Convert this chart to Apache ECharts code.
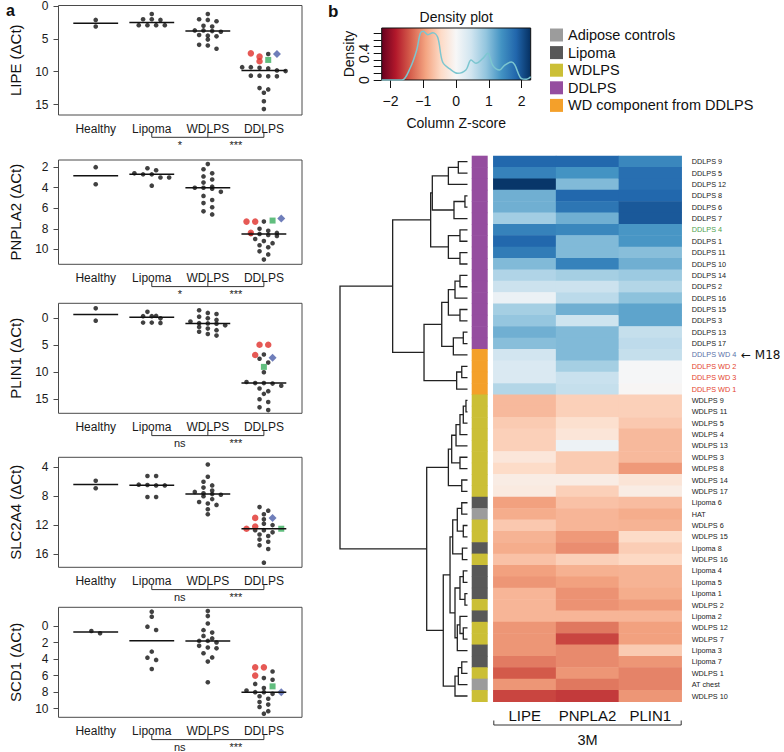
<!DOCTYPE html>
<html><head><meta charset="utf-8">
<script src="https://cdn.jsdelivr.net/npm/echarts@6/dist/echarts.min.js"></script>
<style>html,body{margin:0;padding:0;background:#fff}#c{width:784px;height:752px}</style>
</head><body><div id="c"></div>
<script>
// ================= DATA =================
const groupNames = ['Healthy', 'Lipoma', 'WDLPS', 'DDLPS'];

// Panel a: delta Ct values (black points), WD components (red), M18 (blue), DDLPS 4 (green)
const LIPE_healthy = [2.1, 3.1];
const LIPE_lipoma = [1.2, 2.0, 2.0, 2.1, 2.9, 2.9, 2.9, 2.9];
const LIPE_wdlps = [1.2, 2.0, 2.1, 2.3, 3.0, 3.1, 3.7, 3.7, 3.8, 3.9, 4.4, 4.5, 4.6, 5.1, 5.9, 6.0, 6.5];
const LIPE_ddlps = [7.3, 9.3, 9.3, 9.4, 9.5, 9.8, 9.9, 10.6, 10.6, 10.7, 10.7, 12.5, 12.7, 13.2, 14.5, 15.7];
const LIPE_wdComp = [7.2, 7.7, 8.4];
const LIPE_M18 = [7.3];
const LIPE_DDLPS4 = [8.2];
const LIPE_ticks = [0, 5, 10, 15];

const PNPLA2_healthy = [2.0, 3.66];
const PNPLA2_lipoma = [2.1, 2.3, 2.6, 2.7, 2.7, 3.0, 3.0, 3.8];
const PNPLA2_wdlps = [1.7, 2.2, 2.6, 2.9, 3.2, 3.5, 3.9, 4.0, 4.0, 4.1, 4.4, 4.8, 5.2, 5.5, 5.9, 6.3, 6.6];
const PNPLA2_ddlps = [7.3, 8.0, 8.2, 8.4, 8.5, 8.5, 8.6, 8.7, 9.0, 9.2, 9.4, 9.6, 9.8, 10.2, 10.5, 11.0];
const PNPLA2_wdComp = [7.3, 7.3, 8.4];
const PNPLA2_M18 = [7.0];
const PNPLA2_DDLPS4 = [7.2];
const PNPLA2_ticks = [2, 4, 6, 8, 10];

const PLIN1_healthy = [-1.85, 0.44];
const PLIN1_lipoma = [-1.2, -0.45, -0.4, -0.4, 0.0, 0.8, 0.85, 0.8];
const PLIN1_wdlps = [-1.5, -1.0, -0.8, -0.3, 0.0, 0.3, 0.6, 0.9, 0.95, 1.0, 1.3, 1.6, 1.9, 2.2, 2.5, 2.9, 3.2];
const PLIN1_ddlps = [6.7, 7.5, 8.2, 10.0, 11.8, 12.0, 12.0, 12.1, 12.5, 13.0, 13.5, 14.0, 15.0, 15.5, 16.5, 17.0];
const PLIN1_wdComp = [4.9, 4.9, 6.8];
const PLIN1_M18 = [7.3];
const PLIN1_DDLPS4 = [9.0];
const PLIN1_ticks = [0, 5, 10, 15];

const SLC2A4_healthy = [5.86, 6.9];
const SLC2A4_lipoma = [5.2, 5.2, 6.4, 6.45, 6.5, 6.5, 8.1, 8.1];
const SLC2A4_wdlps = [3.6, 5.3, 6.0, 6.5, 6.8, 7.2, 7.4, 7.6, 7.7, 7.8, 8.0, 8.4, 8.8, 9.0, 9.2, 9.8, 10.5];
const SLC2A4_ddlps = [9.5, 10.0, 10.5, 11.2, 11.8, 12.0, 12.7, 12.7, 13.0, 13.3, 13.5, 14.0, 14.3, 14.8, 15.3, 17.2];
const SLC2A4_wdComp = [11.0, 12.2, 12.5];
const SLC2A4_M18 = [11.0];
const SLC2A4_DDLPS4 = [12.5];
const SLC2A4_ticks = [4, 8, 12, 16];

const SCD1_healthy = [0.88, 0.6];
const SCD1_lipoma = [-1.73, -1.13, 0.08, 0.48, 3.1, 3.83, 4.1, 5.2];
const SCD1_wdlps = [-1.8, -1.2, -0.3, 0.5, 0.8, 1.2, 1.5, 1.8, 1.8, 2.0, 2.4, 2.6, 2.7, 3.3, 3.8, 4.3, 6.8];
const SCD1_ddlps = [5.5, 6.3, 6.5, 7.0, 7.5, 7.8, 8.0, 8.0, 8.2, 8.5, 8.8, 9.2, 9.5, 9.8, 10.3, 10.6];
const SCD1_wdComp = [5.0, 5.0, 6.0];
const SCD1_M18 = [8.0];
const SCD1_DDLPS4 = [7.3];
const SCD1_ticks = [0, 2, 4, 6, 8, 10];

const sigLipomaWDLPS = ['*', '*', 'ns', 'ns', 'ns'];
const sigWDLPSDDLPS = ['***', '***', '***', '***', '***'];

// Panel b: heatmap
const heatGenes = ['LIPE', 'PNPLA2', 'PLIN1'];
const rowNames = ['DDLPS 9','DDLPS 5','DDLPS 12','DDLPS 8','DDLPS 6','DDLPS 7','DDLPS 4','DDLPS 1','DDLPS 11','DDLPS 10','DDLPS 14','DDLPS 2','DDLPS 16','DDLPS 15','DDLPS 3','DDLPS 13','DDLPS 17','DDLPS WD 4','DDLPS WD 2','DDLPS WD 3','DDLPS WD 1','WDLPS 9','WDLPS 11','WDLPS 5','WDLPS 4','WDLPS 13','WDLPS 3','WDLPS 8','WDLPS 14','WDLPS 17','Lipoma 6','HAT','WDLPS 6','WDLPS 15','Lipoma 8','WDLPS 16','Lipoma 4','Lipoma 5','Lipoma 1','WDLPS 2','Lipoma 2','WDLPS 12','WDLPS 7','Lipoma 3','Lipoma 7','WDLPS 1','AT chest','WDLPS 10'];
const zLIPE = [1.82,1.55,2.25,1.12,1.12,0.8,1.55,1.82,1.62,1.02,0.7,0.5,0.15,0.78,0.9,1.12,0.98,0.45,0.35,0.35,0.68,-0.75,-0.75,-0.6,-0.55,-0.55,-0.28,-0.45,-0.18,-0.22,-0.95,-0.85,-0.62,-0.8,-0.85,-0.68,-0.95,-1.02,-0.78,-0.78,-0.78,-1.02,-1.02,-1.02,-1.2,-1.42,-1.02,-1.55];
const zPNPLA2 = [1.82,1.38,1.02,1.82,1.68,1.12,1.5,1.02,1.02,1.55,0.78,0.5,0.62,1.12,0.48,1.02,1.02,1.02,0.78,0.52,0.55,-0.55,-0.55,-0.38,-0.3,0.12,-0.6,-0.6,-0.18,-0.55,-0.68,-0.78,-0.78,-1.0,-1.08,-0.55,-0.82,-0.95,-1.05,-1.05,-0.78,-1.22,-1.55,-1.1,-1.1,-1.02,-1.22,-1.62];
const zPLIN1 = [1.5,1.75,1.75,1.82,1.95,1.95,1.35,1.35,0.98,1.12,0.85,0.68,0.95,1.22,1.22,0.55,0.6,0.55,0.02,0.02,-0.03,-0.55,-0.55,-0.62,-0.75,-0.75,-0.75,-1.0,-0.32,-0.18,-0.72,-0.85,-0.8,-0.45,-0.58,-0.48,-0.8,-0.8,-0.85,-0.98,-0.78,-0.95,-0.95,-0.6,-1.02,-1.15,-1.15,-1.02];
const labelColors = {'DDLPS 4':'#4f9f4f','DDLPS WD 4':'#5a72a8','DDLPS WD 2':'#e4432e','DDLPS WD 3':'#e4432e','DDLPS WD 1':'#e4432e'};

// Row dendrogram (hclust style merges: negative = leaf row (1-based), positive = earlier merge)
const dendroMerges = [
 [-1,-2,0.72],[1,-3,1.5],[-4,-5,0.2],[3,-6,1.06],[2,4,2.76],[-7,-8,0.59],[-9,-10,0.59],[6,7,1.5],[5,8,2.89],
 [-11,-12,0.59],[10,-13,0.98],[-14,-15,0.59],[11,12,1.5],[-16,-17,0.33],[14,-18,1.11],[13,15,2.02],
 [-19,-20,0.45],[17,-21,0.85],[16,18,3.41],[9,19,5.87],
 [-22,-23,0.12],[21,-24,0.33],[22,-25,0.59],[23,-26,0.9],[-27,-28,0.59],[24,25,1.24],[-29,-30,0.45],[26,27,1.5],
 [-31,-32,0.45],[-33,-34,0.33],[29,30,0.8],[-35,-36,0.4],[31,32,1.16],[-37,-38,0.33],[-39,-40,0.2],[34,35,0.59],
 [-42,-43,0.33],[-41,37,0.59],[38,-44,0.8],[36,39,0.98],[33,40,1.37],
 [-45,-46,0.45],[42,-47,0.72],[43,-48,0.98],[41,44,1.9],[28,45,3.2],[20,46,10]
];

// Density plot of column Z-scores
const densX = [-2.27,-1.9,-1.65,-1.4,-1.2,-1.09,-1.0,-0.86,-0.71,-0.56,-0.41,-0.2,0.05,0.3,0.46,0.61,0.81,0.97,1.12,1.33,1.48,1.69,1.79,2.0,2.15,2.28];
const densY = [0,0,0.0,0.18,0.45,0.70,0.73,0.68,0.71,0.64,0.27,0.17,0.10,0.15,0.30,0.25,0.32,0.40,0.22,0.15,0.22,0.27,0.23,0.02,0.01,0.05];
const densTicks = [-2, -1, 0, 1, 2];

const legendNames = ['Adipose controls', 'Lipoma', 'WDLPS', 'DDLPS', 'WD component from DDLPS'];
const legendColors = ['#9c9c9c', '#585858', '#cbbf36', '#954d9f', '#f4a02a'];

// ================= BUILD =================
const FONT = 'Liberation Sans, Arial, Helvetica, sans-serif';
const RDBU = ['#67001f','#b2182b','#d6604d','#f4a582','#fddbc7','#f7f7f7','#d1e5f0','#92c5de','#4393c3','#2166ac','#053061'];
const ZMIN = -2.3, ZMAX = 2.3;

const panels = [
 {name:'LIPE (\u0394Ct)', h:LIPE_healthy, l:LIPE_lipoma, w:LIPE_wdlps, d:LIPE_ddlps, r:LIPE_wdComp, b:LIPE_M18, g:LIPE_DDLPS4, ticks:LIPE_ticks},
 {name:'PNPLA2 (\u0394Ct)', h:PNPLA2_healthy, l:PNPLA2_lipoma, w:PNPLA2_wdlps, d:PNPLA2_ddlps, r:PNPLA2_wdComp, b:PNPLA2_M18, g:PNPLA2_DDLPS4, ticks:PNPLA2_ticks},
 {name:'PLIN1 (\u0394Ct)', h:PLIN1_healthy, l:PLIN1_lipoma, w:PLIN1_wdlps, d:PLIN1_ddlps, r:PLIN1_wdComp, b:PLIN1_M18, g:PLIN1_DDLPS4, ticks:PLIN1_ticks},
 {name:'SLC2A4 (\u0394Ct)', h:SLC2A4_healthy, l:SLC2A4_lipoma, w:SLC2A4_wdlps, d:SLC2A4_ddlps, r:SLC2A4_wdComp, b:SLC2A4_M18, g:SLC2A4_DDLPS4, ticks:SLC2A4_ticks},
 {name:'SCD1 (\u0394Ct)', h:SCD1_healthy, l:SCD1_lipoma, w:SCD1_wdlps, d:SCD1_ddlps, r:SCD1_wdComp, b:SCD1_M18, g:SCD1_DDLPS4, ticks:SCD1_ticks}
];
// layout of the five boxes (pixels / axis extents)
const boxes = [
 {top:5.5, height:109.5, min:-0.1, max:16.6},
 {top:160, height:104.3, min:1.3, max:11.46},
 {top:303.3, height:110, min:-2.78, max:17.6},
 {top:457.3, height:110, min:2.61, max:17.84},
 {top:607.3, height:110, min:-2.26, max:11.04}
];
const BOX_LEFT = 58.5, BOX_W = 243.5, XMIN = 0.336, XMAX = 4.68;

function median(a){ const s=a.slice().sort((x,y)=>x-y); const n=s.length; return n%2? s[(n-1)/2] : (s[n/2-1]+s[n/2])/2; }
function swarm(items, center, binSize, step){
  const order = {r:0,k:1,g:2,b:3};
  const sorted = items.slice().sort((a,b)=>a.v-b.v);
  const bins = [];
  for (const it of sorted){
    const last = bins[bins.length-1];
    if (last && it.v - last[0].v < binSize) last.push(it); else bins.push([it]);
  }
  const out = [];
  bins.forEach(b => { b.sort((p,q)=>order[p.kind]-order[q.kind]); b.forEach((it,k)=> out.push({x:center+(k-(b.length-1)/2)*step, y:it.v, kind:it.kind})); });
  return out;
}

const grids = [], xAxes = [], yAxes = [], series = [];

panels.forEach((p, i) => {
  const box = boxes[i];
  const ppu = box.height / (box.max - box.min);
  grids.push({left:BOX_LEFT, top:box.top, width:BOX_W, height:box.height, show:true, borderColor:'#4a4a4a', borderWidth:1, backgroundColor:'transparent', containLabel:false, outerBoundsMode:'none'});
  xAxes.push({gridIndex:i, type:'value', min:XMIN, max:XMAX, splitLine:{show:false}, axisLine:{show:false, onZero:false}, axisTick:{show:false},
    axisLabel:{customValues:[1,2,3,4], formatter:(v)=>groupNames[Math.round(v)-1], fontSize:12, color:'#1a1a1a', margin:8, fontFamily:FONT}});
  yAxes.push({gridIndex:i, type:'value', inverse:true, min:box.min, max:box.max, splitLine:{show:false}, axisLine:{show:false, onZero:false},
    axisTick:{show:true, customValues:p.ticks, length:5, lineStyle:{color:'#4a4a4a'}},
    axisLabel:{customValues:p.ticks, fontSize:12, color:'#1a1a1a', margin:10, fontFamily:FONT},
    name:p.name, nameLocation:'middle', nameRotate:90, nameGap:36, nameTextStyle:{fontSize:15, color:'#111', fontFamily:FONT}});
  const bin = 4.2/ppu, step = 0.155;
  const pts = [];
  const groupsVals = [p.h, p.l, p.w];
  groupsVals.forEach((vals, gi) => swarm(vals.map(v=>({v, kind:'k'})), gi+1, bin, step).forEach(q=>pts.push(q)));
  const dItems = p.d.map(v=>({v,kind:'k'})).concat(p.r.map(v=>({v,kind:'r'})), p.b.map(v=>({v,kind:'b'})), p.g.map(v=>({v,kind:'g'})));
  swarm(dItems, 4, bin, step).forEach(q=>pts.push(q));
  const sty = {k:{sym:'circle', size:4.6, color:'#111'}, r:{sym:'circle', size:6.5, color:'#e0302b'}, b:{sym:'diamond', size:8, color:'#4b5ea9'}, g:{sym:'rect', size:6, color:'#3aae5e'}};
  ['k','r','b','g'].forEach(kind => {
    series.push({type:'scatter', xAxisIndex:i, yAxisIndex:i, symbol:sty[kind].sym, symbolSize:sty[kind].size,
      itemStyle:{color:sty[kind].color}, data: pts.filter(q=>q.kind===kind).map(q=>[q.x, q.y]), z:3});
  });
  const allD = p.d.concat(p.r, p.b, p.g);
  const meds = [median(p.h), median(p.l), median(p.w), median(allD)].map((m,gi)=>[gi+1, m]);
  series.push({type:'custom', xAxisIndex:i, yAxisIndex:i, data:meds, z:4,
    renderItem:(params, api) => { const x=api.value(0), y=api.value(1); const a=api.coord([x-0.4,y]), b=api.coord([x+0.4,y]);
      return {type:'line', shape:{x1:a[0],y1:a[1],x2:b[0],y2:b[1]}, style:{stroke:'#111', lineWidth:1.5}}; }});
  const sigA = sigLipomaWDLPS[i], sigB = sigWDLPSDDLPS[i];
  series.push({type:'custom', xAxisIndex:i, yAxisIndex:i, data:[[2.5, box.max]], clip:false, silent:true,
    renderItem:(params, api) => {
      const c2=api.coord([2,box.max]), c3=api.coord([3,box.max]), c4=api.coord([4,box.max]);
      const yb=c2[1]+22.3, t=4.5;
      return {type:'group', children:[
        {type:'polyline', shape:{points:[[c2[0],yb-t],[c2[0],yb],[c4[0],yb],[c4[0],yb-t]]}, style:{stroke:'#333', lineWidth:1, fill:null}},
        {type:'line', shape:{x1:c3[0],y1:yb-t,x2:c3[0],y2:yb}, style:{stroke:'#333', lineWidth:1}},
        {type:'text', x:(c2[0]+c3[0])/2, y:yb+2, style:{text:sigA, fill:'#222', fontSize:11, align:'center', verticalAlign:'top', fontFamily:FONT}},
        {type:'text', x:(c3[0]+c4[0])/2, y:yb+2, style:{text:sigB, fill:'#222', fontSize:11, align:'center', verticalAlign:'top', fontFamily:FONT}}
      ]};
    }});
});

// ---- heatmap (grid 5) ----
const HM = {left:493.3, top:156, width:188.4, height:545.7};
grids.push({left:HM.left, top:HM.top, width:HM.width, height:HM.height, containLabel:false, outerBoundsMode:'none'});
xAxes.push({gridIndex:5, type:'category', data:heatGenes, position:'bottom', axisLine:{show:false}, axisTick:{show:false},
  axisLabel:{interval:0, hideOverlap:false, fontSize:15, color:'#111', margin:6, fontFamily:FONT}});
yAxes.push({gridIndex:5, type:'category', data:rowNames, inverse:true, position:'right', axisLine:{show:false}, axisTick:{show:false},
  axisLabel:{interval:0, hideOverlap:false, fontSize:7.3, margin:10, fontFamily:FONT, color:(v)=>labelColors[v]||'#222'}});
const heatData = [];
const zCols = [zLIPE, zPNPLA2, zPLIN1];
zCols.forEach((col, ci) => col.forEach((z, ri) => heatData.push([ci, ri, z])));
const heatSeriesIndex = series.length;
series.push({type:'heatmap', xAxisIndex:5, yAxisIndex:5, data:heatData, itemStyle:{borderWidth:0}, progressive:0});

// ---- colour strip (grid 6) ----
function groupOf(n){ if(n.startsWith('DDLPS WD')) return 4; if(n.startsWith('DDLPS')) return 3; if(n.startsWith('WDLPS')) return 2; if(n.startsWith('Lipoma')) return 1; return 0; }
grids.push({left:471.7, top:HM.top, width:16, height:HM.height, containLabel:false, outerBoundsMode:'none'});
xAxes.push({gridIndex:6, type:'category', data:['group'], show:false});
yAxes.push({gridIndex:6, type:'category', data:rowNames, inverse:true, show:false});
series.push({type:'custom', xAxisIndex:6, yAxisIndex:6, data:rowNames.map((n,ri)=>[0, ri, groupOf(n)]),
  renderItem:(params, api) => { const c=api.coord([api.value(0), api.value(1)]); const s=api.size([1,1]);
    return {type:'rect', shape:{x:c[0]-s[0]/2, y:c[1]-s[1]/2-0.3, width:s[0], height:s[1]+0.6}, style:{fill:legendColors[api.value(2)]}}; }});

// ---- dendrogram (grid 7) ----
grids.push({left:340, top:HM.top, width:127.5, height:HM.height, containLabel:false, outerBoundsMode:'none'});
xAxes.push({gridIndex:7, type:'value', min:0, max:10, inverse:true, show:false});
yAxes.push({gridIndex:7, type:'value', min:-0.5, max:rowNames.length-0.5, inverse:true, show:false});
const nodes = [], segs = [];
function nodeInfo(id){ return id < 0 ? {h:0, y:-id-1} : nodes[id-1]; }
dendroMerges.forEach(([a,b,h]) => { const A=nodeInfo(a), B=nodeInfo(b); nodes.push({h, y:(A.y+B.y)/2}); segs.push([A.h, A.y, B.h, B.y, h]); });
series.push({type:'custom', xAxisIndex:7, yAxisIndex:7, data:segs, clip:false,
  renderItem:(params, api) => { const ha=api.value(0), ya=api.value(1), hb=api.value(2), yb=api.value(3), h=api.value(4);
    return {type:'polyline', shape:{points:[api.coord([ha,ya]), api.coord([h,ya]), api.coord([h,yb]), api.coord([hb,yb])]}, style:{stroke:'#222', lineWidth:1.3, fill:null}}; }});

// ---- density plot (grid 8) ----
const DXMIN = -2.27, DXMAX = 2.28;
const stops = RDBU.map((c, k) => ({offset: Math.min(1, Math.max(0, ((ZMIN + k*(ZMAX-ZMIN)/(RDBU.length-1)) - DXMIN)/(DXMAX-DXMIN))), color:c}));
grids.push({left:381.7, top:28, width:149, height:52, show:true, borderColor:'#111', borderWidth:1,
  backgroundColor:{type:'linear', x:0, y:0, x2:1, y2:0, colorStops:stops}, containLabel:false, outerBoundsMode:'none'});
xAxes.push({gridIndex:8, type:'value', min:DXMIN, max:DXMAX, splitLine:{show:false}, axisLine:{show:false, onZero:false},
  axisTick:{show:true, customValues:densTicks, length:8, lineStyle:{color:'#111'}},
  axisLabel:{customValues:densTicks, fontSize:14, color:'#111', margin:14, fontFamily:FONT, formatter:(v)=>String(v).replace('-','\u2212')},
  name:'Column Z-score', nameLocation:'middle', nameGap:36, nameTextStyle:{fontSize:14, color:'#111', fontFamily:FONT}});
yAxes.push({gridIndex:8, type:'value', min:0, max:0.78, splitLine:{show:false}, axisLine:{show:false, onZero:false},
  axisTick:{show:true, customValues:[0,0.1,0.2,0.3,0.4,0.5,0.6,0.7], length:8, lineStyle:{color:'#111'}},
  axisLabel:{customValues:[0,0.4], rotate:90, fontSize:14, color:'#111', margin:11, fontFamily:FONT},
  name:'Density', nameLocation:'middle', nameRotate:90, nameGap:22, nameTextStyle:{fontSize:14, color:'#111', fontFamily:FONT}});
series.push({type:'line', xAxisIndex:8, yAxisIndex:8, data:densX.map((x,k)=>[x, densY[k]]), smooth:0.35, showSymbol:false,
  lineStyle:{color:'#7cc6d0', width:1.5}, z:3});

// ---- legend & labels (graphic) ----
const graphics = [
  {type:'text', left:6, top:2, style:{text:'a', fontSize:16, fontWeight:'bold', fill:'#111', fontFamily:FONT}},
  {type:'text', left:328, top:3, style:{text:'b', fontSize:17, fontWeight:'bold', fill:'#111', fontFamily:FONT}},
  {type:'text', x:456.2, y:17, style:{text:'Density plot', fontSize:14, fill:'#111', align:'center', verticalAlign:'middle', fontFamily:FONT}},
  {type:'text', x:741, y:354.5, style:{text:'\u2190 M18', fontSize:12, fill:'#111', align:'left', verticalAlign:'middle', fontFamily:'DejaVu Sans, ' + FONT}},
  // 3M bracket under heatmap
  {type:'polyline', shape:{points:[[HM.left+0.5,720.5],[HM.left+0.5,725],[HM.left+HM.width-0.5,725],[HM.left+HM.width-0.5,720.5]]}, style:{stroke:'#333', lineWidth:1, fill:null}},
  {type:'text', x:HM.left+HM.width/2, y:739.5, style:{text:'3M', fontSize:14.5, fill:'#111', align:'center', verticalAlign:'middle', fontFamily:FONT}}
];
legendNames.forEach((n, k) => {
  const yc = 35 + k*17.6;
  graphics.push({type:'rect', shape:{x:550, y:yc-6.5, width:13, height:13}, style:{fill:legendColors[k]}});
  graphics.push({type:'text', x:568, y:yc, style:{text:n, fontSize:14.5, fill:'#111', align:'left', verticalAlign:'middle', fontFamily:FONT}});
});

const option = {
  animation:false,
  backgroundColor:'#ffffff',
  textStyle:{fontFamily:FONT},
  grid:grids, xAxis:xAxes, yAxis:yAxes,
  visualMap:{type:'continuous', show:false, min:ZMIN, max:ZMAX, seriesIndex:heatSeriesIndex, dimension:2, inRange:{color:RDBU}},
  series:series,
  graphic:graphics
};
const chart = echarts.init(document.getElementById('c'), null, {renderer:'svg', width:784, height:752});
chart.setOption(option);
</script></body></html>
